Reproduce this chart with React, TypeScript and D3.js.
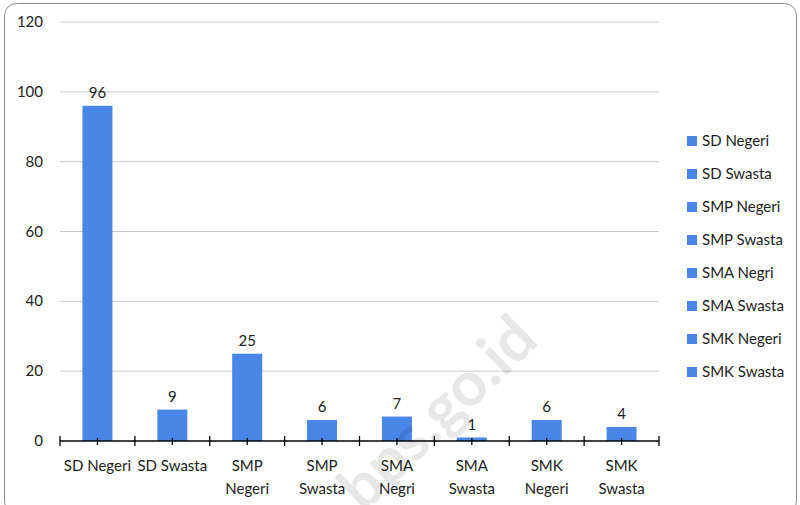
import React from "react";
import * as d3 from "d3";

const categories: string[][] = [
  ["SD Negeri"],
  ["SD Swasta"],
  ["SMP", "Negeri"],
  ["SMP", "Swasta"],
  ["SMA", "Negri"],
  ["SMA", "Swasta"],
  ["SMK", "Negeri"],
  ["SMK", "Swasta"],
];
const legendLabels = ["SD Negeri", "SD Swasta", "SMP Negeri", "SMP Swasta", "SMA Negri", "SMA Swasta", "SMK Negeri", "SMK Swasta"];
const values = [96, 9, 25, 6, 7, 1, 6, 4];
const yTicks = [0, 20, 40, 60, 80, 100, 120];

const W = 800, H = 505;
const left = 60, right = 659, top = 22, bottom = 441;
const font = "Lato, 'Open Sans', sans-serif";
const barColor = "#4a86e8";

export default function App() {
  const x = d3.scaleBand<number>().domain(d3.range(categories.length)).range([left, right]).paddingInner(0).paddingOuter(0);
  const y = d3.scaleLinear().domain([0, 120]).range([bottom, top]);
  const bw = 30;
  const step = x.bandwidth();
  return (
    <svg width={W} height={H} style={{ position: "absolute", left: 0, top: 0 }} fontFamily={font}>
      <rect x={0} y={0} width={W} height={H} fill="#fff" />
      <rect x={4.5} y={3.5} width={792} height={510} rx={12} fill="#fff" stroke="#8c8c8c" strokeWidth={1} />
      {yTicks.map((t) => (
        <g key={t}>
          {t > 0 && <line x1={left} x2={right} y1={y(t)} y2={y(t)} stroke="#c8c8c8" strokeWidth={1} />}
          <text x={43} y={y(t) + 5} textAnchor="end" fontSize={15} fill="#222">{t}</text>
        </g>
      ))}
      {values.map((v, i) => {
        const cx = (x(i) as number) + step / 2;
        return (
          <g key={i}>
            <rect x={cx - bw / 2} y={y(v)} width={bw} height={bottom - y(v)} fill={barColor} />
            <text x={cx} y={y(v) - 8} textAnchor="middle" fontSize={15} fill="#222">{v}</text>
          </g>
        );
      })}
      <line x1={left} x2={right} y1={bottom} y2={bottom} stroke="#000" strokeWidth={1.5} />
      {d3.range(categories.length + 1).map((i) => (
        <line key={"b" + i} x1={left + i * step} x2={left + i * step} y1={bottom - 5} y2={bottom + 5} stroke="#000" strokeWidth={1.3} />
      ))}
      {d3.range(categories.length).map((i) => (
        <line key={"c" + i} x1={left + (i + 0.5) * step} x2={left + (i + 0.5) * step} y1={bottom - 3} y2={bottom + 4} stroke="#000" strokeWidth={1.3} />
      ))}
      {categories.map((lines, i) => {
        const cx = (x(i) as number) + step / 2;
        return (
          <text key={i} x={cx} y={471} textAnchor="middle" fontSize={15} fill="#222">
            {lines.map((l, j) => (
              <tspan key={j} x={cx} dy={j === 0 ? 0 : 23}>{l}</tspan>
            ))}
          </text>
        );
      })}
      {legendLabels.map((l, i) => (
        <g key={l}>
          <rect x={687} y={136 + i * 33} width={10} height={10} fill={barColor} />
          <text x={702} y={146 + i * 33} fontSize={15} fill="#222">{l}</text>
        </g>
      ))}
      <text x={452} y={428} transform="rotate(-44 452 428)" textAnchor="middle" fontSize={62} fontWeight="bold" fill="#000" opacity={0.09}>bps.go.id</text>
    </svg>
  );
}
